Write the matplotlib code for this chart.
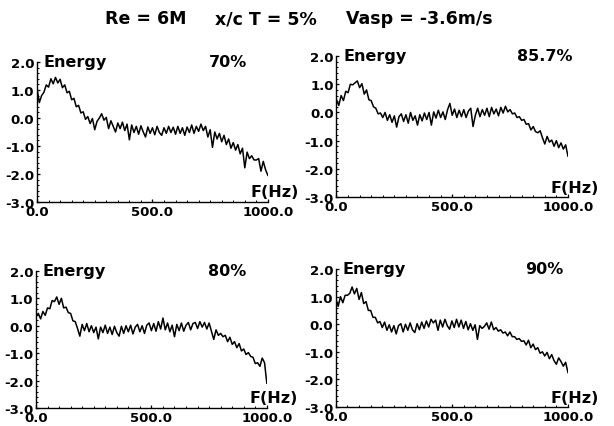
import matplotlib
matplotlib.use("Agg")
import matplotlib.pyplot as plt
from matplotlib.ticker import MultipleLocator, FormatStrFormatter
from matplotlib.transforms import ScaledTranslation

################################################################
##### data (log energy vs frequency)

FREQ = list(range(0, 1001, 10))

ENERGY_70 = [
    1.05, 0.55, 0.80, 0.92, 1.18, 1.10, 1.40, 1.22, 1.45, 1.25,
    1.38, 1.08, 1.18, 0.90, 0.95, 0.65, 0.70, 0.40, 0.45, 0.18,
    0.22, -0.05, 0.05, -0.20, -0.02, -0.42, -0.12, 0.00, 0.15, -0.08,
    0.02, -0.38, -0.10, -0.30, -0.50, -0.18, -0.38, -0.15, -0.45, -0.22,
    -0.78, -0.25, -0.52, -0.30, -0.58, -0.28, -0.50, -0.68, -0.32, -0.55,
    -0.35, -0.60, -0.30, -0.52, -0.62, -0.35, -0.55, -0.30, -0.52, -0.33,
    -0.58, -0.30, -0.55, -0.35, -0.62, -0.32, -0.52, -0.25, -0.55, -0.30,
    -0.48, -0.22, -0.45, -0.30, -0.68, -0.42, -1.05, -0.50, -0.75, -0.55,
    -0.85, -0.62, -0.95, -0.75, -1.08, -0.88, -1.15, -0.95, -1.28, -1.08,
    -1.78, -1.22, -1.45, -1.35, -1.50, -1.50, -1.45, -1.90, -1.55, -1.85,
    -2.05,
]

ENERGY_857 = [
    0.45, 0.25, 0.60, 0.42, 0.75, 0.70, 1.00, 0.98, 1.05, 1.12,
    0.88, 1.02, 0.65, 0.80, 0.45, 0.42, 0.20, 0.15, -0.05, -0.02,
    -0.18, 0.00, -0.28, -0.08, -0.35, -0.12, -0.52, -0.15, -0.05, -0.32,
    -0.08, -0.38, 0.00, -0.28, -0.12, -0.45, -0.08, -0.30, -0.02, -0.25,
    0.00, -0.45, 0.02, -0.20, 0.08, -0.18, 0.02, -0.25, 0.10, 0.32,
    -0.10, 0.12, -0.18, 0.08, -0.15, 0.10, -0.18, 0.05, 0.15, -0.50,
    -0.10, 0.15, -0.15, 0.10, -0.10, 0.15, -0.15, 0.18, -0.05, 0.12,
    -0.12, 0.18, -0.02, 0.22, 0.02, 0.10, -0.05, -0.02, -0.18, -0.15,
    -0.28, -0.25, -0.42, -0.40, -0.62, -0.50, -0.68, -0.72, -0.65, -0.90,
    -1.12, -0.85, -1.05, -0.98, -1.20, -1.00, -1.25, -1.08, -1.30, -1.15,
    -1.55,
]

ENERGY_80 = [
    0.32, 0.45, 0.25, 0.52, 0.38, 0.65, 0.62, 0.92, 0.88, 1.05,
    0.78, 1.00, 0.65, 0.68, 0.48, 0.45, 0.18, 0.15, -0.10, -0.38,
    0.05, -0.18, 0.08, -0.22, 0.00, -0.25, -0.05, -0.48, -0.05, -0.25,
    0.02, -0.28, -0.05, -0.32, -0.02, -0.25, -0.38, -0.02, -0.28, 0.00,
    -0.22, 0.02, -0.30, -0.05, 0.05, -0.22, 0.00, -0.28, 0.02, 0.10,
    -0.18, 0.08, -0.20, 0.15, -0.12, 0.28, -0.15, 0.10, -0.22, 0.02,
    -0.40, 0.05, -0.18, 0.10, -0.20, 0.02, 0.12, -0.15, 0.08, 0.12,
    -0.10, 0.15, -0.05, 0.12, -0.12, 0.10, -0.20, -0.50, -0.15, -0.35,
    -0.28, -0.40, -0.35, -0.58, -0.42, -0.68, -0.58, -0.80, -0.65, -0.92,
    -0.85, -1.05, -0.98, -1.12, -1.15, -1.38, -1.35, -1.48, -1.18, -1.35,
    -2.10,
]

ENERGY_90 = [
    0.92, 0.65, 1.00, 0.78, 1.05, 1.05, 1.12, 1.35, 1.10, 1.30,
    0.90, 1.15, 0.75, 0.82, 0.50, 0.50, 0.25, 0.25, 0.05, 0.10,
    -0.12, 0.08, -0.22, -0.02, -0.28, -0.05, -0.35, -0.05, 0.02, -0.28,
    0.00, -0.22, 0.05, -0.20, -0.30, 0.02, -0.20, 0.08, -0.15, 0.12,
    -0.10, 0.18, 0.05, 0.15, -0.22, 0.15, -0.10, 0.18, -0.05, -0.18,
    0.12, -0.12, 0.18, -0.10, 0.15, -0.15, 0.10, -0.20, 0.02, -0.22,
    -0.02, -0.55, -0.05, -0.15, -0.08, 0.05, -0.18, 0.08, -0.20, -0.12,
    -0.25, -0.20, -0.32, -0.28, -0.42, -0.28, -0.45, -0.45, -0.55, -0.52,
    -0.62, -0.60, -0.75, -0.58, -0.85, -0.72, -0.92, -0.85, -1.05, -1.00,
    -1.15, -1.02, -1.25, -1.10, -1.32, -1.45, -1.22, -1.35, -1.52, -1.38,
    -1.75,
]

PANELS = [
    # (label, series, [left, bottom, width, height], label x in Hz, F(Hz) y frac)
    ("70%", ENERGY_70, [0.0603, 0.5246, 0.376, 0.328], 827, 0.045),
    ("85.7%", ENERGY_857, [0.548, 0.5363, 0.377, 0.330], 900, 0.035),
    ("80%", ENERGY_80, [0.0586, 0.0422, 0.376, 0.321], 830, 0.044),
    ("90%", ENERGY_90, [0.547, 0.0445, 0.378, 0.323], 900, 0.036),
]

TITLE_PARTS = ["Re = 6M", "x/c T = 5%", "Vasp = -3.6m/s"]

################################################################

plt.rcParams["font.family"] = "DejaVu Sans"
plt.rcParams["font.weight"] = "bold"

fig = plt.figure(figsize=(6.14, 4.27), dpi=100)

# title is three separate pieces with wide gaps between them
title_y = 1 - 24 / 427
for part, xc in zip(TITLE_PARTS, [146, 266, 419]):
    fig.text(xc / 614, title_y, part, fontsize=12.5, fontweight="bold",
             ha="center")

for label, energy, rect, label_x, fhz_y in PANELS:
    ax = fig.add_axes(rect)
    ax.plot(FREQ, energy, color="k", lw=1.1)
    ax.set_xlim(0, 1000)
    ax.set_ylim(-3, 2)

    for side in ["top", "right"]:
        ax.spines[side].set_visible(False)
    ax.spines["left"].set_linewidth(1.0)
    ax.spines["bottom"].set_linewidth(1.0)

    ax.xaxis.set_major_locator(MultipleLocator(500))
    ax.xaxis.set_minor_locator(MultipleLocator(50))
    ax.yaxis.set_major_locator(MultipleLocator(1))
    ax.yaxis.set_minor_locator(MultipleLocator(0.2))
    ax.xaxis.set_major_formatter(FormatStrFormatter("%.1f"))
    ax.yaxis.set_major_formatter(FormatStrFormatter("%.1f"))
    ax.tick_params(which="major", direction="in", length=2.5, width=0.9,
                   labelsize=9.5)
    ax.tick_params(which="minor", direction="in", length=1.2, width=0.7)
    ax.tick_params(axis="x", which="major", pad=2.5)
    ax.tick_params(axis="y", which="major", pad=2.0)
    for t in ax.get_xticklabels() + ax.get_yticklabels():
        t.set_fontweight("bold")

    # in the scan the 0.0 under the origin sits a bit right
    # and the -3.0 a bit up, so the two labels do not touch
    first_x = ax.xaxis.get_major_ticks()[0].label1
    first_x.set_transform(first_x.get_transform()
                          + ScaledTranslation(8 / 100, 0, fig.dpi_scale_trans))
    first_y = ax.yaxis.get_major_ticks()[0].label1
    first_y.set_transform(first_y.get_transform()
                          + ScaledTranslation(0, 2 / 100, fig.dpi_scale_trans))

    ax.text(0.03, 0.97, "Energy", transform=ax.transAxes,
            fontsize=11.5, fontweight="bold", va="baseline", ha="left")
    ax.text(label_x, 0.97, label, transform=ax.get_xaxis_transform(),
            fontsize=11.5, fontweight="bold", va="baseline", ha="center")
    ax.text(1.135, fhz_y, "F(Hz)", transform=ax.transAxes,
            fontsize=11.5, fontweight="bold", va="baseline", ha="right",
            clip_on=False)

fig.savefig("out.png", dpi=100)
